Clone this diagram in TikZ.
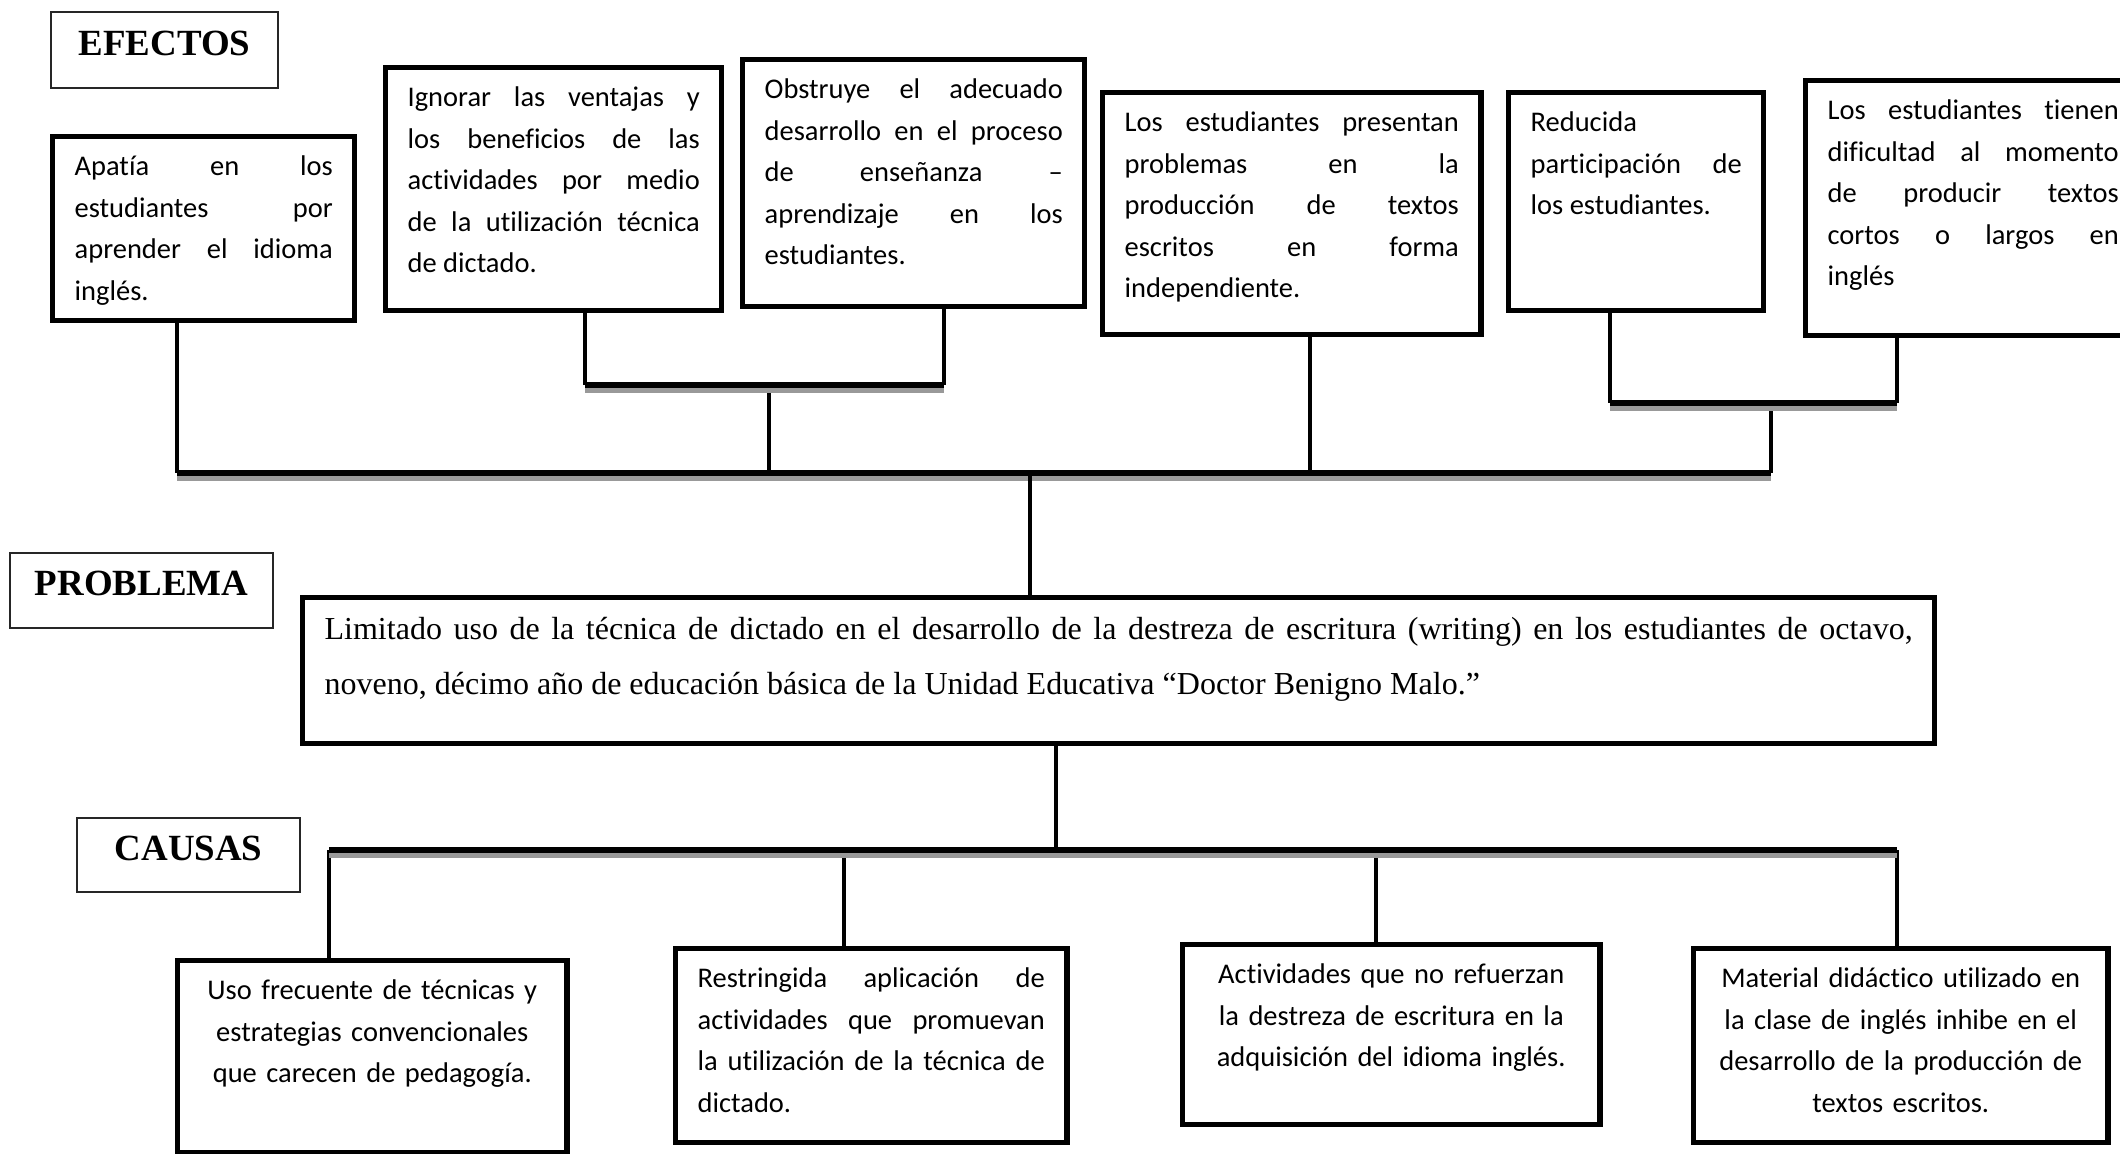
\documentclass[tikz,border=0pt]{standalone}
\usepackage{fontspec}
\setmainfont{Liberation Serif}
\newfontfamily\bodyfont{Carlito}[Ligatures=NoCommon]
\newcommand\boxfont{\bodyfont\fontsize{8.1}{11.8}\selectfont\hyphenpenalty=10000\tolerance=9999\hbadness=10000\relax}
\newcommand\problemfont{\fontsize{9.1}{15.65}\selectfont\hyphenpenalty=10000\tolerance=9999\hbadness=10000\relax}

\begin{document}
\begin{tikzpicture}[
        x=0.01cm, y=-0.01cm,
        titlebox/.style={
            rectangle,
            draw=black!85,
            line width=0.6pt,
            anchor=north west,
            inner sep=0pt,
            text depth=0.14cm,
            font=\fontsize{10.5}{12}\selectfont\bfseries
        },
        effect/.style={
            rectangle,
            draw,
            line width=1.5pt,
            anchor=north west,
            inner xsep=0.22cm,
            inner ysep=0.1cm,
            text height=0.29cm,
            align=justify,
            font=\boxfont
        },
        cause/.style={
            effect,
            inner xsep=0.12cm,
            align=center
        },
        link/.style={
            line width=1.2pt
        },
        bus/.style={
            line width=1.5pt,
            preaction={draw=black!40, line width=1.4pt, transform canvas={yshift=-1.6pt}}
        }
    ]

    \path[use as bounding box, clip] (0,0) rectangle (2120,1153);

    % Titles
    \node[titlebox, minimum width=2.27cm, minimum height=0.76cm] (tEfectos) at (50,11) {EFECTOS};
    \node[titlebox, minimum width=2.63cm, minimum height=0.75cm] (tProblema) at (9,552) {PROBLEMA};
    \node[titlebox, minimum width=2.23cm, minimum height=0.74cm] (tCausas) at (76,817) {CAUSAS};

    % Effects
    \node[effect, text width=2.58cm, text depth=1.35cm] (apatia) at (50,134)
        {Apatía en los\linebreak estudiantes por\linebreak aprender el idioma\linebreak inglés.};
    \node[effect, text width=2.92cm, text depth=1.94cm] (ignorar) at (383,65)
        {Ignorar las ventajas y\linebreak los beneficios de las\linebreak actividades por medio\linebreak de la utilización técnica\linebreak de dictado.};
    \node[effect, text width=2.98cm, text depth=1.98cm] (obstruye) at (740,57)
        {Obstruye el adecuado\linebreak desarrollo en el proceso\linebreak de enseñanza –\linebreak aprendizaje en los\linebreak estudiantes.};
    \node[effect, text width=3.34cm, text depth=1.93cm] (presentan) at (1100,90)
        {Los estudiantes presentan\linebreak problemas en la\linebreak producción de textos\linebreak escritos en forma\linebreak independiente.};
    \node[effect, text width=2.11cm, text depth=1.69cm] (reducida) at (1506,90)
        {Reducida\\ participación de\linebreak los estudiantes.};
    \node[effect, text width=2.91cm, text depth=2.06cm] (tienen) at (1803,78)
        {Los estudiantes tienen\linebreak dificultad al momento\linebreak de producir textos\linebreak cortos o largos en\linebreak inglés};

    % Problem
    \node[effect, text width=15.87cm, text height=0.32cm, text depth=0.94cm, font=\problemfont] (problema) at (300,595)
        {Limitado uso de la técnica de dictado en el desarrollo de la destreza de escritura (writing) en los estudiantes de octavo,\linebreak noveno, décimo año de educación básica de la Unidad Educativa “Doctor Benigno Malo.”};

    % Causes
    \node[cause, text width=3.65cm, text depth=1.43cm] (uso) at (175,958)
        {Uso frecuente de técnicas y\\ estrategias convencionales\\ que carecen de pedagogía.};
    \node[effect, text width=3.47cm, text depth=1.45cm] (restringida) at (673,946)
        {Restringida aplicación de\linebreak actividades que promuevan\linebreak la utilización de la técnica de\linebreak dictado.};
    \node[cause, text width=3.93cm, text depth=1.31cm] (actividades) at (1180,942)
        {Actividades que no refuerzan\\ la destreza de escritura en la\\ adquisición del idioma inglés.};
    \node[cause, text width=3.90cm, text depth=1.45cm] (material) at (1691,946)
        {Material didáctico utilizado en\\ la clase de inglés inhibe en  el\\ desarrollo de la producción de\\ textos escritos.};

    % Effect tree
    \coordinate (ea) at (177,473);
    \coordinate (eio) at (769,473);
    \coordinate (ep) at (1310,473);
    \coordinate (ert) at (1771,473);
    \coordinate (etrunk) at (1030,473);
    \coordinate (io) at (769,385);
    \coordinate (ioL) at (585,385);
    \coordinate (ioR) at (944,385);
    \coordinate (rt) at (1771,403);
    \coordinate (rtL) at (1610,403);
    \coordinate (rtR) at (1897,403);

    \draw[link] (apatia.south -| ea) -- (ea);
    \draw[link] (ignorar.south -| ioL) -- (ioL);
    \draw[link] (obstruye.south -| ioR) -- (ioR);
    \draw[link] (io) -- (eio);
    \draw[link] (presentan.south -| ep) -- (ep);
    \draw[link] (reducida.south -| rtL) -- (rtL);
    \draw[link] (tienen.south -| rtR) -- (rtR);
    \draw[link] (rt) -- (ert);
    \draw[bus] (ioL) -- (ioR);
    \draw[bus] (rtL) -- (rtR);
    \draw[bus] (ea) -- (ert);
    \draw[link] (etrunk) -- (problema.north -| etrunk);

    % Cause tree
    \coordinate (ctrunk) at (1056,850);
    \coordinate (cu) at (329,850);
    \coordinate (cr) at (844,850);
    \coordinate (cac) at (1376,850);
    \coordinate (cm) at (1897,850);

    \draw[link] (problema.south -| ctrunk) -- (ctrunk);
    \draw[link] (cu) -- (uso.north -| cu);
    \draw[link] (cr) -- (restringida.north -| cr);
    \draw[link] (cac) -- (actividades.north -| cac);
    \draw[link] (cm) -- (material.north -| cm);
    \draw[bus] (cu) -- (cm);

\end{tikzpicture}
\end{document}
